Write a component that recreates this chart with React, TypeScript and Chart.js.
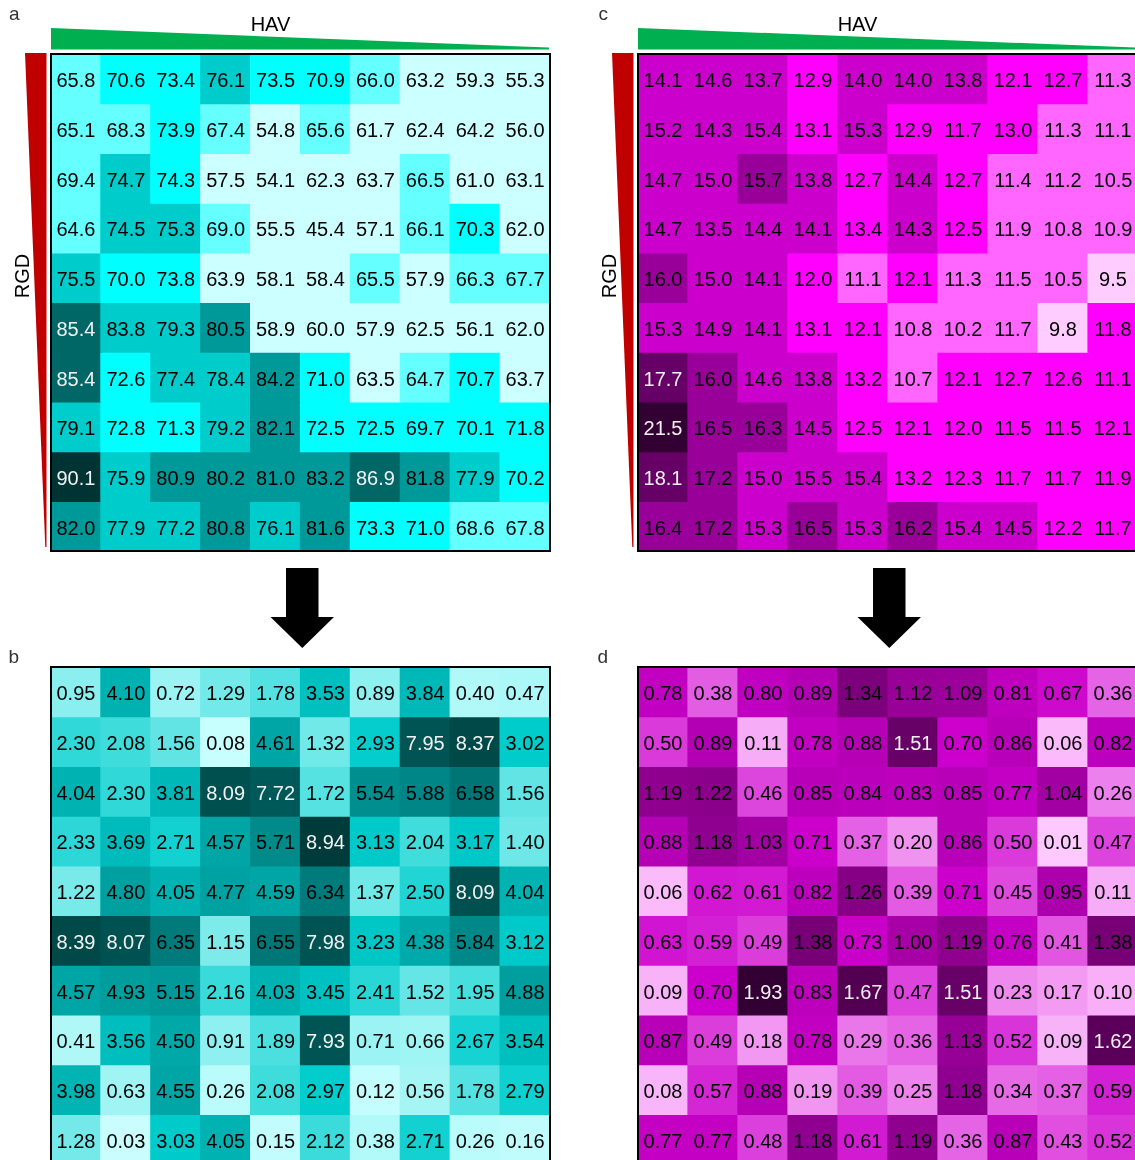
import React, { useEffect, useRef } from "react";
import { Chart, registerables } from "chart.js";

Chart.register(...registerables);

// Column categories (HAV levels, left to right) and row categories (RGD levels, top to bottom)
const havColumns = ["1", "2", "3", "4", "5", "6", "7", "8", "9", "10"];

// Panel a: values
const panelAValues: number[][] = [
  [65.8, 70.6, 73.4, 76.1, 73.5, 70.9, 66.0, 63.2, 59.3, 55.3],
  [65.1, 68.3, 73.9, 67.4, 54.8, 65.6, 61.7, 62.4, 64.2, 56.0],
  [69.4, 74.7, 74.3, 57.5, 54.1, 62.3, 63.7, 66.5, 61.0, 63.1],
  [64.6, 74.5, 75.3, 69.0, 55.5, 45.4, 57.1, 66.1, 70.3, 62.0],
  [75.5, 70.0, 73.8, 63.9, 58.1, 58.4, 65.5, 57.9, 66.3, 67.7],
  [85.4, 83.8, 79.3, 80.5, 58.9, 60.0, 57.9, 62.5, 56.1, 62.0],
  [85.4, 72.6, 77.4, 78.4, 84.2, 71.0, 63.5, 64.7, 70.7, 63.7],
  [79.1, 72.8, 71.3, 79.2, 82.1, 72.5, 72.5, 69.7, 70.1, 71.8],
  [90.1, 75.9, 80.9, 80.2, 81.0, 83.2, 86.9, 81.8, 77.9, 70.2],
  [82.0, 77.9, 77.2, 80.8, 76.1, 81.6, 73.3, 71.0, 68.6, 67.8],
];

// Panel a: colour class of each cell (0 = lightest .. 6 = darkest)
const panelAClasses: number[][] = [
  [1, 2, 2, 3, 2, 2, 1, 0, 0, 0],
  [1, 1, 2, 1, 0, 1, 0, 0, 0, 0],
  [1, 3, 2, 0, 0, 0, 0, 1, 0, 0],
  [1, 3, 3, 1, 0, 0, 0, 1, 2, 0],
  [3, 2, 2, 0, 0, 0, 1, 0, 1, 1],
  [5, 3, 3, 4, 0, 0, 0, 0, 0, 0],
  [5, 2, 3, 3, 4, 2, 0, 1, 2, 0],
  [3, 2, 2, 3, 4, 2, 2, 2, 2, 2],
  [6, 3, 4, 4, 4, 4, 5, 4, 3, 2],
  [4, 3, 3, 4, 3, 4, 2, 2, 1, 1],
];

// Panel b: values
const panelBValues: number[][] = [
  [0.95, 4.10, 0.72, 1.29, 1.78, 3.53, 0.89, 3.84, 0.40, 0.47],
  [2.30, 2.08, 1.56, 0.08, 4.61, 1.32, 2.93, 7.95, 8.37, 3.02],
  [4.04, 2.30, 3.81, 8.09, 7.72, 1.72, 5.54, 5.88, 6.58, 1.56],
  [2.33, 3.69, 2.71, 4.57, 5.71, 8.94, 3.13, 2.04, 3.17, 1.40],
  [1.22, 4.80, 4.05, 4.77, 4.59, 6.34, 1.37, 2.50, 8.09, 4.04],
  [8.39, 8.07, 6.35, 1.15, 6.55, 7.98, 3.23, 4.38, 5.84, 3.12],
  [4.57, 4.93, 5.15, 2.16, 4.03, 3.45, 2.41, 1.52, 1.95, 4.88],
  [0.41, 3.56, 4.50, 0.91, 1.89, 7.93, 0.71, 0.66, 2.67, 3.54],
  [3.98, 0.63, 4.55, 0.26, 2.08, 2.97, 0.12, 0.56, 1.78, 2.79],
  [1.28, 0.03, 3.03, 4.05, 0.15, 2.12, 0.38, 2.71, 0.26, 0.16],
];

// Panel c: values
const panelCValues: number[][] = [
  [14.1, 14.6, 13.7, 12.9, 14.0, 14.0, 13.8, 12.1, 12.7, 11.3],
  [15.2, 14.3, 15.4, 13.1, 15.3, 12.9, 11.7, 13.0, 11.3, 11.1],
  [14.7, 15.0, 15.7, 13.8, 12.7, 14.4, 12.7, 11.4, 11.2, 10.5],
  [14.7, 13.5, 14.4, 14.1, 13.4, 14.3, 12.5, 11.9, 10.8, 10.9],
  [16.0, 15.0, 14.1, 12.0, 11.1, 12.1, 11.3, 11.5, 10.5, 9.5],
  [15.3, 14.9, 14.1, 13.1, 12.1, 10.8, 10.2, 11.7, 9.8, 11.8],
  [17.7, 16.0, 14.6, 13.8, 13.2, 10.7, 12.1, 12.7, 12.6, 11.1],
  [21.5, 16.5, 16.3, 14.5, 12.5, 12.1, 12.0, 11.5, 11.5, 12.1],
  [18.1, 17.2, 15.0, 15.5, 15.4, 13.2, 12.3, 11.7, 11.7, 11.9],
  [16.4, 17.2, 15.3, 16.5, 15.3, 16.2, 15.4, 14.5, 12.2, 11.7],
];

// Panel c: colour class of each cell
const panelCClasses: number[][] = [
  [3, 3, 3, 2, 3, 3, 3, 2, 2, 1],
  [3, 3, 3, 2, 3, 2, 2, 2, 1, 1],
  [3, 3, 4, 3, 2, 3, 2, 1, 1, 1],
  [3, 3, 3, 3, 2, 3, 2, 1, 1, 1],
  [4, 3, 3, 2, 1, 2, 1, 1, 1, 0],
  [3, 3, 3, 2, 2, 1, 1, 1, 0, 2],
  [5, 4, 3, 3, 2, 1, 2, 2, 2, 2],
  [6, 4, 4, 3, 2, 2, 2, 2, 2, 2],
  [5, 4, 3, 3, 3, 2, 2, 2, 2, 2],
  [4, 4, 3, 4, 3, 4, 3, 3, 2, 2],
];

// Panel d: values
const panelDValues: number[][] = [
  [0.78, 0.38, 0.80, 0.89, 1.34, 1.12, 1.09, 0.81, 0.67, 0.36],
  [0.50, 0.89, 0.11, 0.78, 0.88, 1.51, 0.70, 0.86, 0.06, 0.82],
  [1.19, 1.22, 0.46, 0.85, 0.84, 0.83, 0.85, 0.77, 1.04, 0.26],
  [0.88, 1.18, 1.03, 0.71, 0.37, 0.20, 0.86, 0.50, 0.01, 0.47],
  [0.06, 0.62, 0.61, 0.82, 1.26, 0.39, 0.71, 0.45, 0.95, 0.11],
  [0.63, 0.59, 0.49, 1.38, 0.73, 1.00, 1.19, 0.76, 0.41, 1.38],
  [0.09, 0.70, 1.93, 0.83, 1.67, 0.47, 1.51, 0.23, 0.17, 0.10],
  [0.87, 0.49, 0.18, 0.78, 0.29, 0.36, 1.13, 0.52, 0.09, 1.62],
  [0.08, 0.57, 0.88, 0.19, 0.39, 0.25, 1.18, 0.34, 0.37, 0.59],
  [0.77, 0.77, 0.48, 1.18, 0.61, 1.19, 0.36, 0.87, 0.43, 0.52],
];

const cyanClasses = ["#ccffff", "#66ffff", "#00ffff", "#00cccc", "#009999", "#006666", "#003333"];
const magentaClasses = ["#ffccff", "#ff66ff", "#ff00ff", "#cc00cc", "#990099", "#660066", "#330033"];

type Stop = { v: number; c: [number, number, number] };
const cyanScale: Stop[] = [
  { v: 0, c: [204, 255, 255] },
  { v: 3, c: [0, 204, 204] },
  { v: 9, c: [0, 58, 58] },
];
const magentaScale: Stop[] = [
  { v: 0, c: [255, 204, 255] },
  { v: 0.7, c: [204, 0, 204] },
  { v: 1.93, c: [51, 0, 51] },
];

function gradient(stops: Stop[], v: number): string {
  if (v <= stops[0].v) return `rgb(${stops[0].c.join(",")})`;
  for (let i = 1; i < stops.length; i++) {
    const a = stops[i - 1];
    const b = stops[i];
    if (v <= b.v || i === stops.length - 1) {
      const t = Math.min(1, (v - a.v) / (b.v - a.v));
      const c = a.c.map((x, k) => Math.round(x + (b.c[k] - x) * t));
      return `rgb(${c.join(",")})`;
    }
  }
  return "#000";
}

const FONT = '"Liberation Sans", Arial, Helvetica, sans-serif';

type PanelProps = {
  left: number;
  top: number;
  width: number;
  height: number;
  values: number[][];
  decimals: number;
  fill: (v: number, r: number, c: number) => string;
  light: (v: number, r: number, c: number) => boolean;
};

function HeatPanel({ left, top, width, height, values, decimals, fill, light }: PanelProps) {
  const ref = useRef<HTMLCanvasElement | null>(null);
  const pad = 3;
  useEffect(() => {
    if (!ref.current) return;
    const datasets = values.map((row, r) => ({
      label: `RGD ${r + 1}`,
      data: row.map(() => [r, r + 1]),
      backgroundColor: row.map((v, c) => fill(v, r, c)),
      borderWidth: 0,
      barPercentage: 1,
      categoryPercentage: 1,
      grouped: false,
      inflateAmount: 0.6,
    }));
    const cellText = {
      id: "cellText",
      afterDatasetsDraw(chart: any) {
        const ctx = chart.ctx as CanvasRenderingContext2D;
        const xs = chart.scales.x;
        const ys = chart.scales.y;
        ctx.save();
        ctx.font = `20px ${FONT}`;
        ctx.textAlign = "center";
        ctx.textBaseline = "alphabetic";
        values.forEach((row, r) =>
          row.forEach((v, c) => {
            ctx.fillStyle = light(v, r, c) ? "#f2f2f2" : "#000";
            ctx.fillText(v.toFixed(decimals), xs.getPixelForValue(c), ys.getPixelForValue(r + 0.5) + 8.5);
          })
        );
        ctx.restore();
      },
      afterDraw(chart: any) {
        const ctx = chart.ctx as CanvasRenderingContext2D;
        const a = chart.chartArea;
        ctx.save();
        ctx.strokeStyle = "#000";
        ctx.lineWidth = 2;
        ctx.strokeRect(a.left, a.top, a.right - a.left, a.bottom - a.top);
        ctx.restore();
      },
    };
    const chart = new Chart(ref.current, {
      type: "bar",
      data: { labels: havColumns, datasets: datasets as any },
      options: {
        animation: false,
        responsive: false,
        maintainAspectRatio: false,
        devicePixelRatio: 1,
        events: [],
        layout: { padding: { left: pad, right: pad, top: pad, bottom: pad } },
        plugins: { legend: { display: false }, tooltip: { enabled: false }, title: { display: false } },
        scales: {
          x: { type: "category", display: false, offset: true, grid: { display: false } },
          y: { type: "linear", display: false, min: 0, max: 10, reverse: true, grid: { display: false } },
        },
      } as any,
      plugins: [cellText],
    });
    return () => chart.destroy();
  }, []);
  return (
    <canvas
      ref={ref}
      width={width + 2 * pad}
      height={height + 2 * pad}
      style={{ position: "absolute", left: left - pad, top: top - pad, width: width + 2 * pad, height: height + 2 * pad }}
    />
  );
}

function Decorations({ dx }: { dx: number }) {
  const labelStyle = { fontFamily: FONT, fill: "#000" } as any;
  return (
    <g transform={`translate(${dx},0)`}>
      <polygon points="51,28 549,47.5 549,49.5 51,49.5" fill="#00b050" />
      <polygon points="25,53 46.5,53 46.5,547 45.3,547" fill="#c00000" />
      <text x={270.5} y={30.5} fontSize={20} textAnchor="middle" style={labelStyle}>HAV</text>
      <text transform="translate(28.5,276) rotate(-90)" x={0} y={0} fontSize={20} textAnchor="middle" style={labelStyle}>RGD</text>
      <polygon points="286,568 318.5,568 318.5,617 334,617 302.3,648 270.5,617 286,617" fill="#000" />
    </g>
  );
}

export default function App() {
  const cols = [51, 638];
  const rows = [54, 667];
  const h = 497;
  return (
    <div style={{ position: "absolute", left: 0, top: 0, width: 1135, height: 1160, overflow: "hidden", background: "#fff" }}>
      <HeatPanel left={cols[0]} top={rows[0]} width={499} height={h} values={panelAValues} decimals={1}
        fill={(v, r, c) => cyanClasses[panelAClasses[r][c]]}
        light={(v, r, c) => panelAClasses[r][c] >= 5} />
      <HeatPanel left={cols[0]} top={rows[1]} width={499} height={h} values={panelBValues} decimals={2}
        fill={(v) => gradient(cyanScale, v)}
        light={(v) => v >= 7.5} />
      <HeatPanel left={cols[1]} top={rows[0]} width={500} height={h} values={panelCValues} decimals={1}
        fill={(v, r, c) => magentaClasses[panelCClasses[r][c]]}
        light={(v, r, c) => panelCClasses[r][c] >= 5} />
      <HeatPanel left={cols[1]} top={rows[1]} width={500} height={h} values={panelDValues} decimals={2}
        fill={(v) => gradient(magentaScale, v)}
        light={(v) => v >= 1.45} />
      <svg width={1135} height={1160} style={{ position: "absolute", left: 0, top: 0, pointerEvents: "none" }}>
        <Decorations dx={0} />
        <Decorations dx={587} />
        <text x={9} y={19.5} fontSize={19} style={{ fontFamily: FONT, fill: "#333" }}>a</text>
        <text x={8.5} y={662.5} fontSize={19} style={{ fontFamily: FONT, fill: "#333" }}>b</text>
        <text x={598.5} y={19.5} fontSize={19} style={{ fontFamily: FONT, fill: "#333" }}>c</text>
        <text x={597.5} y={662.5} fontSize={19} style={{ fontFamily: FONT, fill: "#333" }}>d</text>
      </svg>
    </div>
  );
}
